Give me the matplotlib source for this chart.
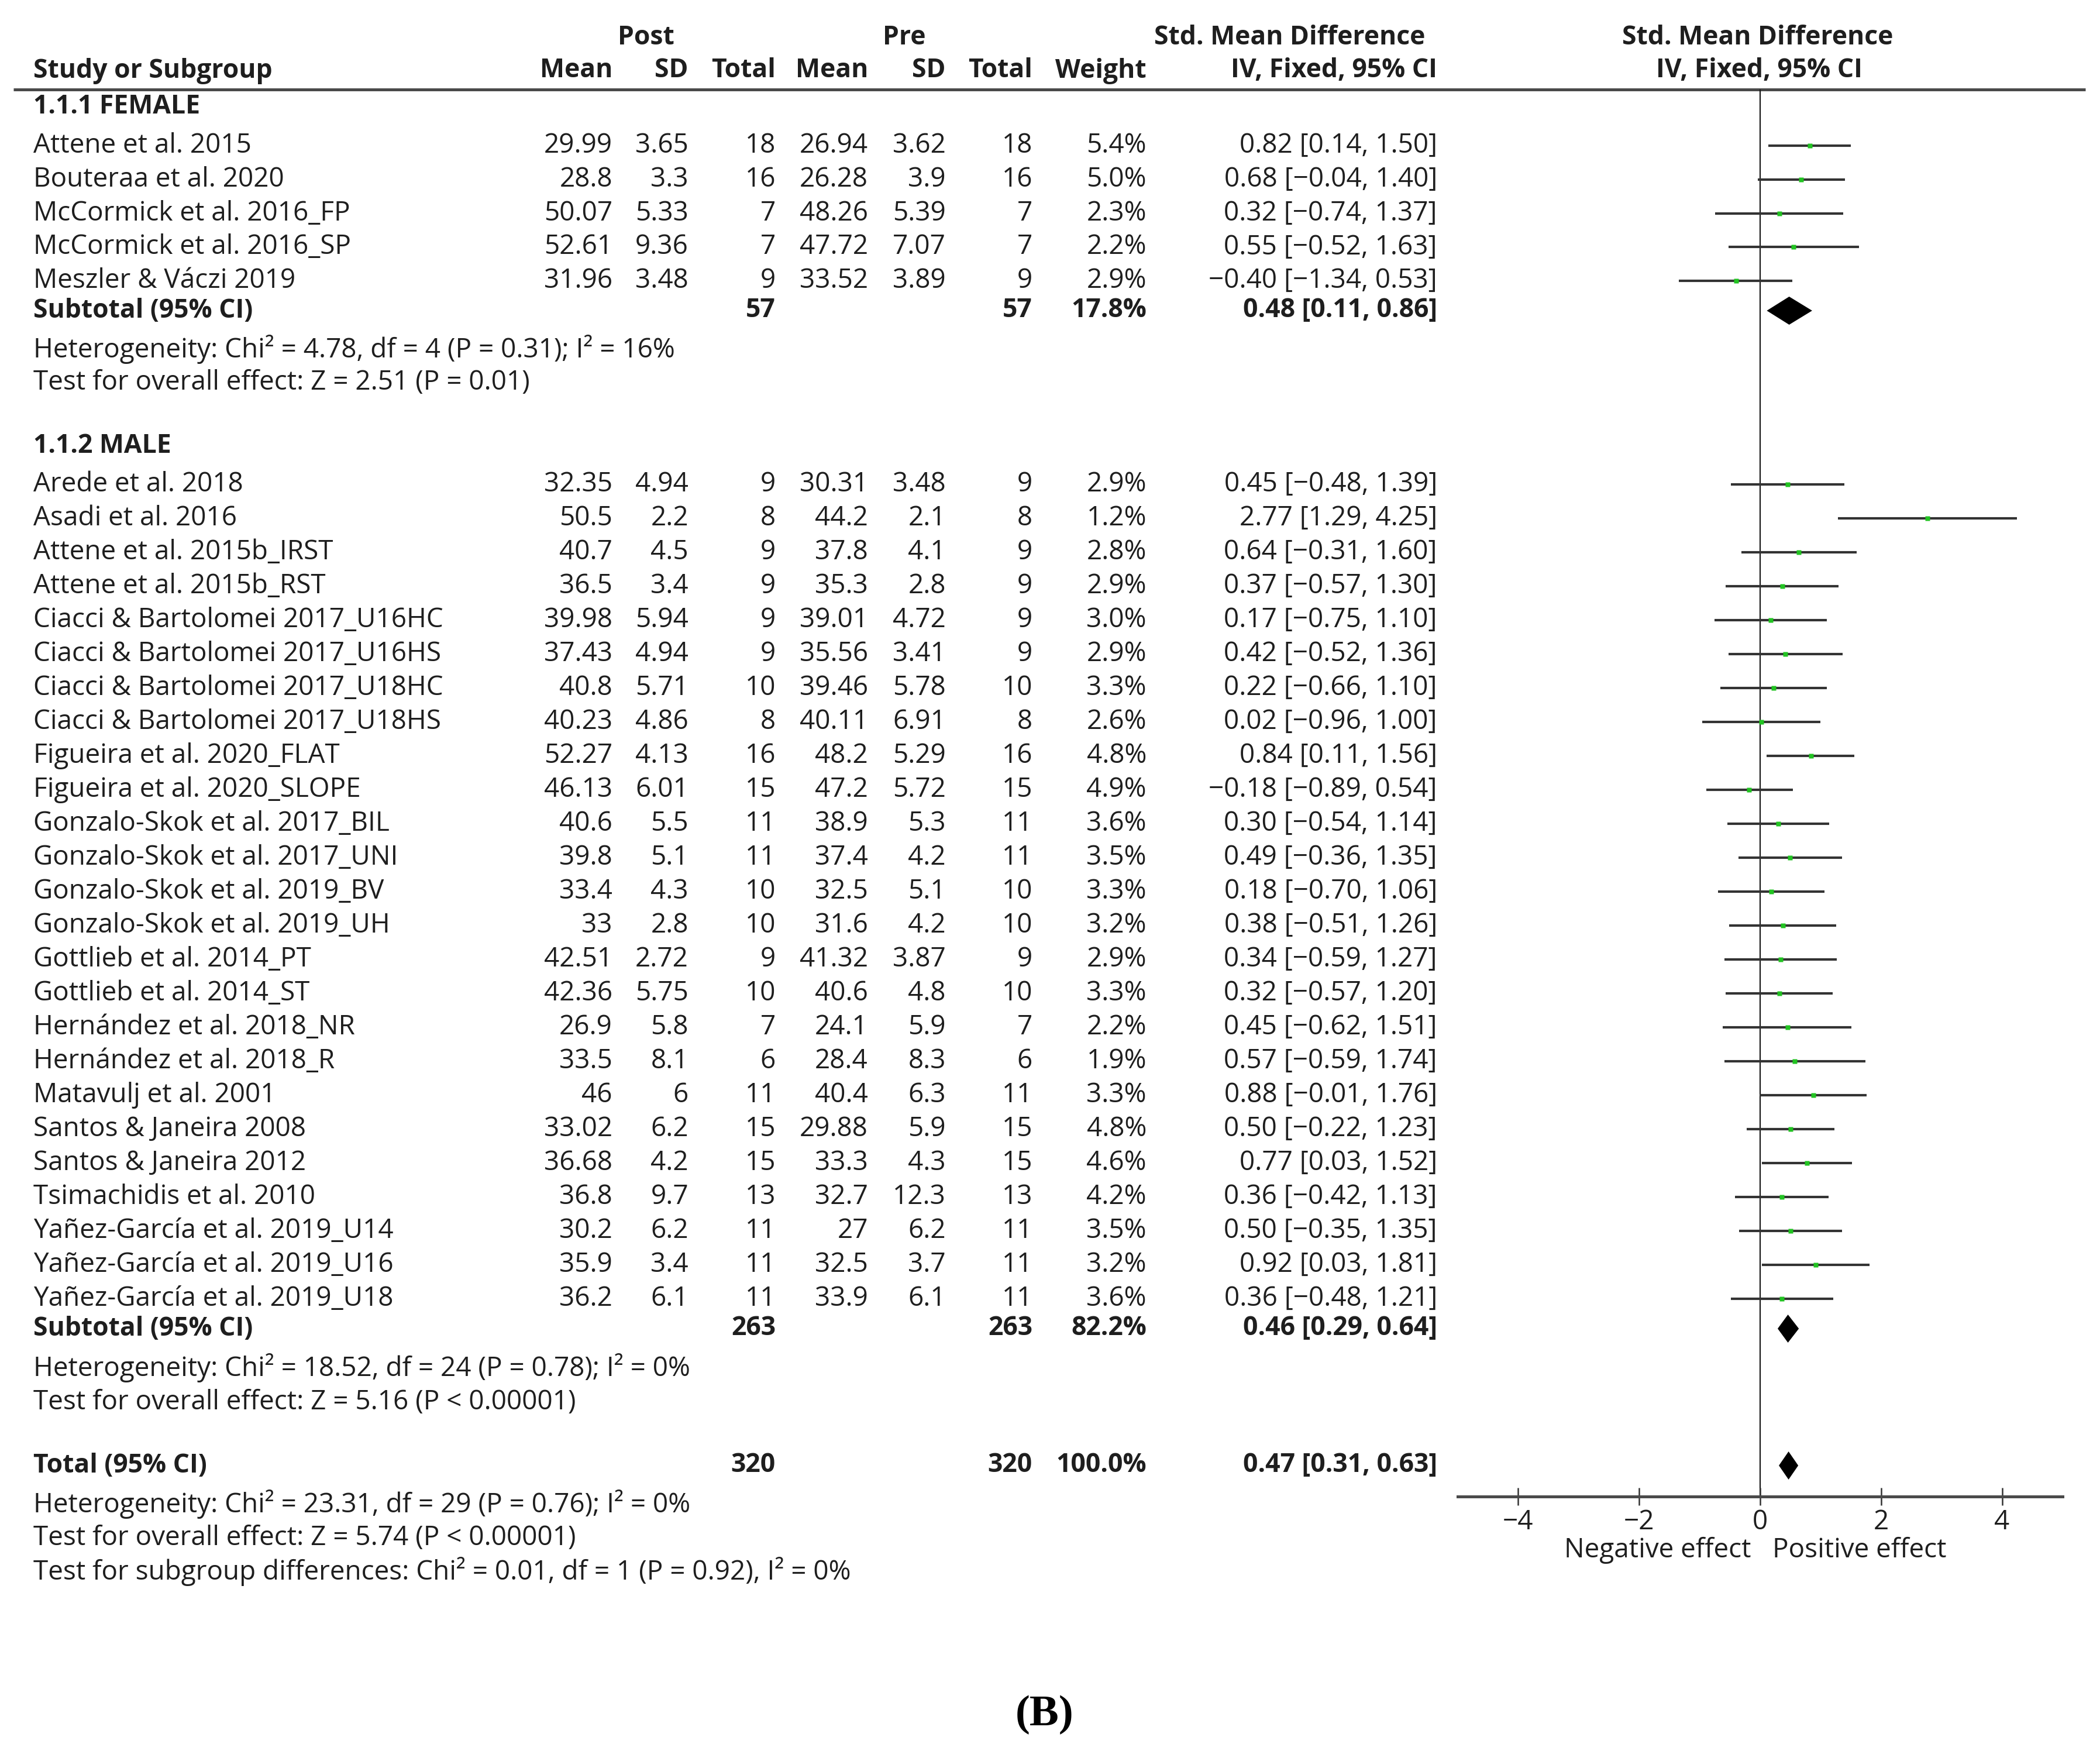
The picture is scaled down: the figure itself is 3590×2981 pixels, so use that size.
import matplotlib
matplotlib.use("Agg")
import matplotlib.pyplot as plt
from matplotlib.patches import Polygon

plt.rcParams['font.family'] = ['Open Sans', 'DejaVu Sans']

# ---- data -------------------------------------------------------------
female_names = ["Attene et al. 2015", "Bouteraa et al. 2020", "McCormick et al. 2016_FP",
                "McCormick et al. 2016_SP", "Meszler & Váczi 2019"]
female_post_mean = [29.99, 28.8, 50.07, 52.61, 31.96]
female_post_sd = [3.65, 3.3, 5.33, 9.36, 3.48]
female_post_n = [18, 16, 7, 7, 9]
female_pre_mean = [26.94, 26.28, 48.26, 47.72, 33.52]
female_pre_sd = [3.62, 3.9, 5.39, 7.07, 3.89]
female_pre_n = [18, 16, 7, 7, 9]
female_weight = [5.4, 5.0, 2.3, 2.2, 2.9]
female_smd = [0.82, 0.68, 0.32, 0.55, -0.40]
female_lo = [0.14, -0.04, -0.74, -0.52, -1.34]
female_hi = [1.50, 1.40, 1.37, 1.63, 0.53]

male_names = ["Arede et al. 2018", "Asadi et al. 2016", "Attene et al. 2015b_IRST",
              "Attene et al. 2015b_RST", "Ciacci & Bartolomei 2017_U16HC",
              "Ciacci & Bartolomei 2017_U16HS", "Ciacci & Bartolomei 2017_U18HC",
              "Ciacci & Bartolomei 2017_U18HS", "Figueira et al. 2020_FLAT",
              "Figueira et al. 2020_SLOPE", "Gonzalo-Skok et al. 2017_BIL",
              "Gonzalo-Skok et al. 2017_UNI", "Gonzalo-Skok et al. 2019_BV",
              "Gonzalo-Skok et al. 2019_UH", "Gottlieb et al. 2014_PT", "Gottlieb et al. 2014_ST",
              "Hernández et al. 2018_NR", "Hernández et al. 2018_R", "Matavulj et al. 2001",
              "Santos & Janeira 2008", "Santos & Janeira 2012", "Tsimachidis et al. 2010",
              "Yañez-García et al. 2019_U14", "Yañez-García et al. 2019_U16",
              "Yañez-García et al. 2019_U18"]
male_post_mean = [32.35, 50.5, 40.7, 36.5, 39.98, 37.43, 40.8, 40.23, 52.27, 46.13, 40.6, 39.8,
                  33.4, 33, 42.51, 42.36, 26.9, 33.5, 46, 33.02, 36.68, 36.8, 30.2, 35.9, 36.2]
male_post_sd = [4.94, 2.2, 4.5, 3.4, 5.94, 4.94, 5.71, 4.86, 4.13, 6.01, 5.5, 5.1,
                4.3, 2.8, 2.72, 5.75, 5.8, 8.1, 6, 6.2, 4.2, 9.7, 6.2, 3.4, 6.1]
male_post_n = [9, 8, 9, 9, 9, 9, 10, 8, 16, 15, 11, 11, 10, 10, 9, 10, 7, 6, 11, 15, 15, 13, 11, 11, 11]
male_pre_mean = [30.31, 44.2, 37.8, 35.3, 39.01, 35.56, 39.46, 40.11, 48.2, 47.2, 38.9, 37.4,
                 32.5, 31.6, 41.32, 40.6, 24.1, 28.4, 40.4, 29.88, 33.3, 32.7, 27, 32.5, 33.9]
male_pre_sd = [3.48, 2.1, 4.1, 2.8, 4.72, 3.41, 5.78, 6.91, 5.29, 5.72, 5.3, 4.2,
               5.1, 4.2, 3.87, 4.8, 5.9, 8.3, 6.3, 5.9, 4.3, 12.3, 6.2, 3.7, 6.1]
male_pre_n = [9, 8, 9, 9, 9, 9, 10, 8, 16, 15, 11, 11, 10, 10, 9, 10, 7, 6, 11, 15, 15, 13, 11, 11, 11]
male_weight = [2.9, 1.2, 2.8, 2.9, 3.0, 2.9, 3.3, 2.6, 4.8, 4.9, 3.6, 3.5,
               3.3, 3.2, 2.9, 3.3, 2.2, 1.9, 3.3, 4.8, 4.6, 4.2, 3.5, 3.2, 3.6]
male_smd = [0.45, 2.77, 0.64, 0.37, 0.17, 0.42, 0.22, 0.02, 0.84, -0.18, 0.30, 0.49,
            0.18, 0.38, 0.34, 0.32, 0.45, 0.57, 0.88, 0.50, 0.77, 0.36, 0.50, 0.92, 0.36]
male_lo = [-0.48, 1.29, -0.31, -0.57, -0.75, -0.52, -0.66, -0.96, 0.11, -0.89, -0.54, -0.36,
           -0.70, -0.51, -0.59, -0.57, -0.62, -0.59, -0.01, -0.22, 0.03, -0.42, -0.35, 0.03, -0.48]
male_hi = [1.39, 4.25, 1.60, 1.30, 1.10, 1.36, 1.10, 1.00, 1.56, 0.54, 1.14, 1.35,
           1.06, 1.26, 1.27, 1.20, 1.51, 1.74, 1.76, 1.23, 1.52, 1.13, 1.35, 1.81, 1.21]

# subtotal / total: [n_post, n_pre, weight, smd, lo, hi]
female_sub = [57, 57, 17.8, 0.48, 0.11, 0.86]
male_sub = [263, 263, 82.2, 0.46, 0.29, 0.64]
overall = [320, 320, 100.0, 0.47, 0.31, 0.63]

female_stats = ["Heterogeneity: Chi² = 4.78, df = 4 (P = 0.31); I² = 16%",
                "Test for overall effect: Z = 2.51 (P = 0.01)"]
male_stats = ["Heterogeneity: Chi² = 18.52, df = 24 (P = 0.78); I² = 0%",
              "Test for overall effect: Z = 5.16 (P < 0.00001)"]
total_stats = ["Heterogeneity: Chi² = 23.31, df = 29 (P = 0.76); I² = 0%",
               "Test for overall effect: Z = 5.74 (P < 0.00001)",
               "Test for subgroup differences: Chi² = 0.01, df = 1 (P = 0.92), I² = 0%"]

xticks = [-4, -2, 0, 2, 4]

# ---- layout (pixel units of the output image) ------------------------
W, H = 3591, 2981
FS = 33
FSB = 32
TXT = '#1e1e1e'
LINEC = '#333333'
GREEN = '#22c322'

col_name = 57
col_right = [1047, 1177, 1326, 1484, 1617, 1765, 1960, 2457]

y_rule = 153
y_axis = 2558
dy = 4
y_female = 179 + dy
y_f_rows = [245 + dy + i * 57.8 for i in range(len(female_names))]
y_f_sub = 527 + dy
y_f_stats = [593 + dy, 650 + dy]
y_male = 758 + dy
y_m_rows = [824 + dy + i * 58.0 for i in range(len(male_names))]
y_m_sub = 2267 + dy
y_m_stats = [2334 + dy, 2393 + dy]
y_total = 2501 + dy
y_t_stats = [2567 + dy, 2625 + dy, 2682 + dy]

fig = plt.figure(figsize=(W / 100, H / 100), dpi=100)
ax = fig.add_axes([0, 0, 1, 1])
ax.set_xlim(0, W)
ax.set_ylim(H, 0)
ax.axis('off')

fx0, fx1 = 2492, 3526
fax = fig.add_axes([fx0 / W, 1 - y_axis / H, (fx1 - fx0) / W, (y_axis - y_rule) / H])
fax.set_xlim(-5, 5)
fax.set_ylim(y_axis, y_rule)
fax.patch.set_alpha(0)


def put(x, y, s, ha='right', bold=False):
    ax.text(x, y, s, ha=ha, va='center', fontsize=FSB if bold else FS, color=TXT,
            fontweight='bold' if bold else 'normal')


# header
put(1104, 64, "Post", ha='center', bold=True)
put(1546, 64, "Pre", ha='center', bold=True)
put(2205, 64, "Std. Mean Difference", ha='center', bold=True)
put(3005, 64, "Std. Mean Difference", ha='center', bold=True)
hdr = ["Mean", "SD", "Total", "Mean", "SD", "Total", "Weight", "IV, Fixed, 95% CI"]
put(col_name, 121, "Study or Subgroup", ha='left', bold=True)
for x, s in zip(col_right, hdr):
    put(x, 121, s, bold=True)
put(3007, 121, "IV, Fixed, 95% CI", ha='center', bold=True)
ax.plot([23, 3565], [y_rule, y_rule], color='#4a4a4a', lw=3.6, solid_capstyle='butt')


def fmt(v):
    return f"{v:g}"


def ci(e, lo, hi):
    return f"{e:.2f} [{lo:.2f}, {hi:.2f}]".replace('-', '−')


def study_rows(ys, names, pm, psd, pn, qm, qsd, qn, w, e, lo, hi):
    for i, y in enumerate(ys):
        put(col_name, y, names[i], ha='left')
        vals = [fmt(pm[i]), fmt(psd[i]), str(pn[i]), fmt(qm[i]), fmt(qsd[i]), str(qn[i]),
                f"{w[i]:.1f}%", ci(e[i], lo[i], hi[i])]
        for x, s in zip(col_right, vals):
            put(x, y, s)
    fax.hlines(ys, lo, hi, color=LINEC, lw=3.0)
    fax.plot(e, ys, 's', color=GREEN, ms=6, mec='none', ls='none', zorder=3)


def summary_row(y, label, vals):
    put(col_name, y, label, ha='left', bold=True)
    put(col_right[2], y, str(vals[0]), bold=True)
    put(col_right[5], y, str(vals[1]), bold=True)
    put(col_right[6], y, f"{vals[2]:.1f}%", bold=True)
    put(col_right[7], y, ci(vals[3], vals[4], vals[5]), bold=True)
    h = 24
    fax.add_patch(Polygon([(vals[4], y), (vals[3], y - h), (vals[5], y), (vals[3], y + h)],
                          closed=True, color='black', lw=0, zorder=3))


put(col_name, y_female, "1.1.1 FEMALE", ha='left', bold=True)
study_rows(y_f_rows, female_names, female_post_mean, female_post_sd, female_post_n,
           female_pre_mean, female_pre_sd, female_pre_n, female_weight,
           female_smd, female_lo, female_hi)
summary_row(y_f_sub, "Subtotal (95% CI)", female_sub)
for y, s in zip(y_f_stats, female_stats):
    put(col_name, y, s, ha='left')

put(col_name, y_male, "1.1.2 MALE", ha='left', bold=True)
study_rows(y_m_rows, male_names, male_post_mean, male_post_sd, male_post_n,
           male_pre_mean, male_pre_sd, male_pre_n, male_weight,
           male_smd, male_lo, male_hi)
summary_row(y_m_sub, "Subtotal (95% CI)", male_sub)
for y, s in zip(y_m_stats, male_stats):
    put(col_name, y, s, ha='left')

summary_row(y_total, "Total (95% CI)", overall)
for y, s in zip(y_t_stats, total_stats):
    put(col_name, y, s, ha='left')

# forest axis
fax.axvline(0, color='#1a1a1a', lw=1.6, zorder=0)
for sp in ['top', 'left', 'right']:
    fax.spines[sp].set_visible(False)
fax.spines['bottom'].set_linewidth(3.6)
fax.spines['bottom'].set_color('#4a4a4a')
fax.set_yticks([])
fax.set_xticks(xticks)
fax.set_xticklabels([str(t).replace('-', '−') for t in xticks])
fax.tick_params(axis='x', direction='inout', length=22, width=1.8, color='#333333',
                labelsize=FS, labelcolor=TXT, pad=4)
fax.text(-0.15, 2650, "Negative effect", ha='right', va='center', fontsize=FS, color=TXT)
fax.text(0.2, 2650, "Positive effect", ha='left', va='center', fontsize=FS, color=TXT)

ax.text(1786, 2931, "(B)", ha='center', va='center', fontsize=54, fontweight='bold',
        family='Liberation Serif', color='black')

fig.savefig("out.png", dpi=100, facecolor='white')
